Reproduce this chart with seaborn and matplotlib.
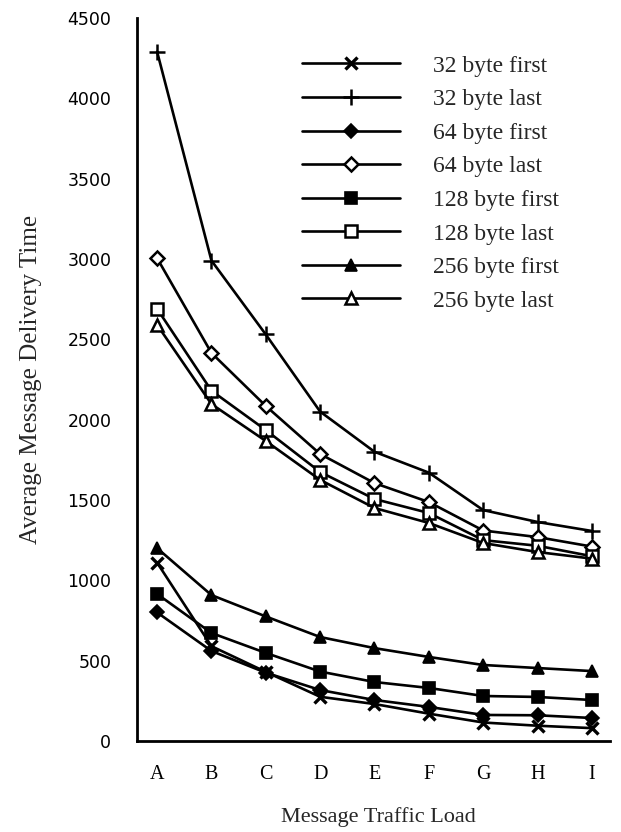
import matplotlib
matplotlib.use("Agg")
import matplotlib.pyplot as plt
import seaborn as sns
import pandas as pd

loads = ["A", "B", "C", "D", "E", "F", "G", "H", "I"]
series_names = ["32 byte first", "32 byte last", "64 byte first", "64 byte last",
                "128 byte first", "128 byte last", "256 byte first", "256 byte last"]
b32_first = [1110, 590, 430, 275, 230, 170, 115, 95, 80]
b32_last = [4290, 2990, 2530, 2050, 1800, 1670, 1437, 1363, 1307]
b64_first = [800, 560, 425, 317, 255, 212, 162, 160, 143]
b64_last = [3005, 2415, 2085, 1786, 1605, 1487, 1310, 1269, 1210]
b128_first = [915, 672, 548, 432, 367, 330, 280, 274, 255]
b128_last = [2690, 2180, 1935, 1674, 1506, 1419, 1250, 1215, 1150]
b256_first = [1200, 908, 775, 647, 578, 523, 473, 454, 435]
b256_last = [2590, 2097, 1867, 1625, 1450, 1357, 1232, 1176, 1135]
all_values = [b32_first, b32_last, b64_first, b64_last,
              b128_first, b128_last, b256_first, b256_last]

rows = []
for name, vals in zip(series_names, all_values):
    for i, (ld, v) in enumerate(zip(loads, vals)):
        rows.append({"series": name, "load": ld, "pos": i, "value": v})
df = pd.DataFrame(rows)

sns.set_style("white")
plt.rcParams["font.family"] = ["Liberation Serif", "DejaVu Serif"]

fig = plt.figure(figsize=(6.21, 8.32), dpi=100)
ax = fig.add_axes([0.2206, 0.1094, 0.7614, 0.869])

styles = {
    "32 byte first": dict(marker="x", mfc="black", ms=8, mew=2.4),
    "32 byte last": dict(marker="+", mfc="black", ms=11, mew=1.8),
    "64 byte first": dict(marker="D", mfc="black", ms=7.5, mew=1.2),
    "64 byte last": dict(marker="D", mfc="white", ms=7.5, mew=1.8),
    "128 byte first": dict(marker="s", mfc="black", ms=9, mew=1.2),
    "128 byte last": dict(marker="s", mfc="white", ms=9, mew=1.8),
    "256 byte first": dict(marker="^", mfc="black", ms=9, mew=1.2),
    "256 byte last": dict(marker="^", mfc="white", ms=9, mew=1.8),
}

handles = []
for name in series_names:
    st = styles[name]
    sub = df[df["series"] == name]
    sns.lineplot(data=sub, x="pos", y="value", ax=ax, color="black", lw=1.9,
                 marker=st["marker"], markersize=st["ms"], markerfacecolor=st["mfc"],
                 markeredgecolor="black", markeredgewidth=st["mew"], label=name,
                 legend=False)
    handles.append(ax.lines[-1])

ax.set_xlim(-0.37, 8.33)
ax.set_ylim(0, 4500)
ax.set_xticks(range(len(loads)))
ax.set_xticklabels(loads, fontsize=14.5)
ax.set_yticks(range(0, 4501, 500))
ax.set_yticklabels([str(v) for v in range(0, 4501, 500)],
                   fontfamily="DejaVu Sans", fontsize=12.5)
ax.tick_params(axis="both", direction="out", width=1.5, colors="black")
ax.tick_params(axis="x", pad=9, length=8)
ax.tick_params(axis="y", pad=9, length=9.5)
for s in ["top", "right"]:
    ax.spines[s].set_visible(False)
for s in ["left", "bottom"]:
    ax.spines[s].set_linewidth(2)
    ax.spines[s].set_color("black")

ax.set_xlabel("Message Traffic Load", fontsize=16)
ax.xaxis.label.set_verticalalignment("center")
ax.xaxis.set_label_coords(0.51, -0.105)
ax.set_ylabel("Average Message Delivery Time", fontsize=18, labelpad=18)

leg = ax.legend(handles=handles, labels=series_names, loc="upper left",
                bbox_to_anchor=(0.305, 0.978), frameon=False, fontsize=17,
                handlelength=4.15, handletextpad=1.4, labelspacing=0.51)

fig.savefig("out.png", dpi=100)
